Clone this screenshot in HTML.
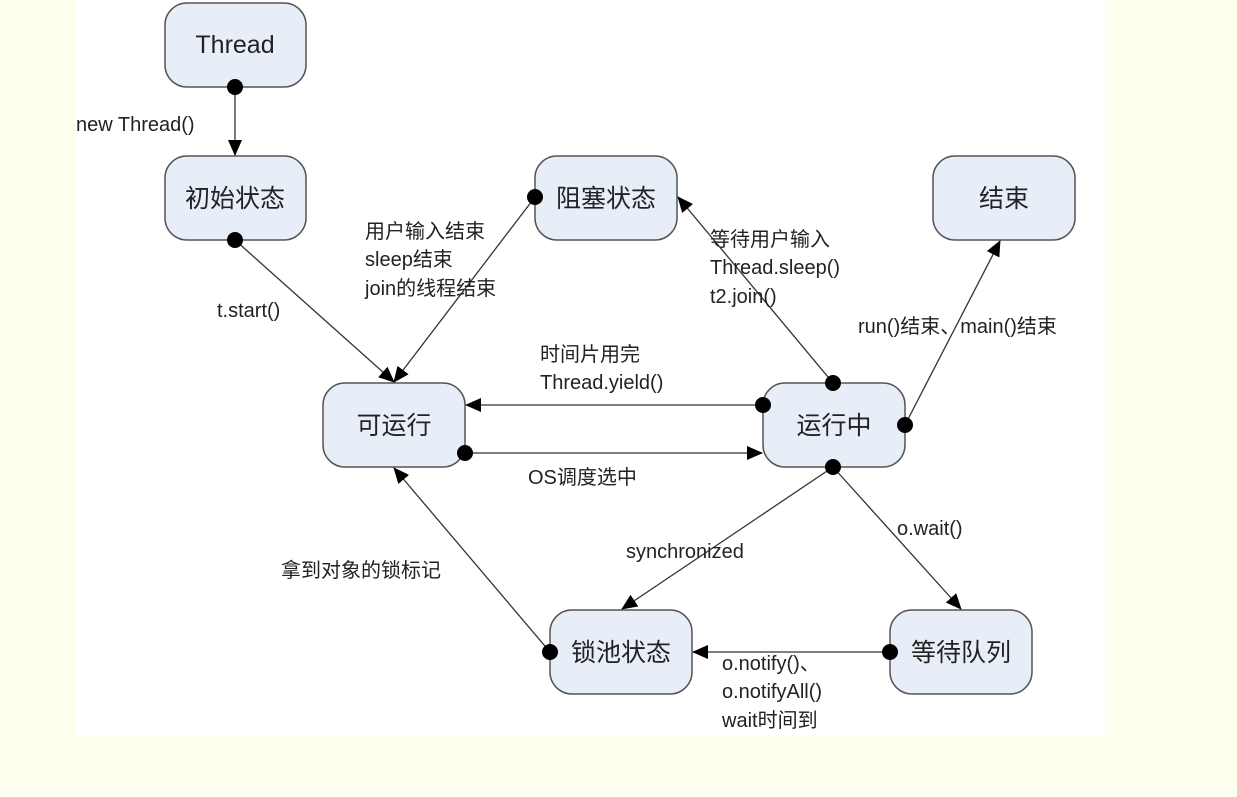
<!DOCTYPE html>
<html><head><meta charset="utf-8"><style>
html,body{margin:0;padding:0;background:#fffff0;}
svg{display:block;}
text{font-family:"Liberation Sans","Noto Sans CJK SC",sans-serif;fill:#222;}
</style></head><body>
<svg width="1237" height="797" xmlns="http://www.w3.org/2000/svg">
<defs>
<marker id="a" markerWidth="16" markerHeight="14" refX="15" refY="7" orient="auto" markerUnits="userSpaceOnUse">
<path d="M0,0 L16,7 L0,14 z" fill="#000"/></marker>
</defs>
<rect x="0" y="0" width="1237" height="797" fill="#fffff0"/>
<rect x="75" y="0" width="1031" height="736" fill="#fff"/>
<g fill="#e8eef8" stroke="#555" stroke-width="1.5">
<rect x="165" y="3" width="141" height="84" rx="22"/>
<rect x="165" y="156" width="141" height="84" rx="22"/>
<rect x="535" y="156" width="142" height="84" rx="22"/>
<rect x="933" y="156" width="142" height="84" rx="22"/>
<rect x="323" y="383" width="142" height="84" rx="22"/>
<rect x="763" y="383" width="142" height="84" rx="22"/>
<rect x="550" y="610" width="142" height="84" rx="22"/>
<rect x="890" y="610" width="142" height="84" rx="22"/>
</g>
<g font-size="25" text-anchor="middle">
<text x="235" y="53">Thread</text>
<text x="235" y="207">初始状态</text>
<text x="606" y="207">阻塞状态</text>
<text x="1004" y="207">结束</text>
<text x="394" y="434">可运行</text>
<text x="834" y="434">运行中</text>
<text x="621" y="661">锁池状态</text>
<text x="961" y="661">等待队列</text>
</g>
<g stroke="#333" stroke-width="1.3" fill="none" marker-end="url(#a)">
<line x1="235" y1="87" x2="235" y2="155"/>
<line x1="235" y1="240" x2="394" y2="382"/>
<line x1="535" y1="197" x2="394" y2="382"/>
<line x1="833" y1="383" x2="678" y2="197"/>
<line x1="905" y1="425" x2="1000" y2="241"/>
<line x1="763" y1="405" x2="466" y2="405"/>
<line x1="465" y1="453" x2="762" y2="453"/>
<line x1="833" y1="467" x2="622" y2="609"/>
<line x1="833" y1="467" x2="961" y2="609"/>
<line x1="890" y1="652" x2="693" y2="652"/>
<line x1="550" y1="652" x2="394" y2="468"/>
</g>
<g fill="#000">
<circle cx="235" cy="87" r="8"/>
<circle cx="235" cy="240" r="8"/>
<circle cx="535" cy="197" r="8"/>
<circle cx="833" cy="383" r="8"/>
<circle cx="905" cy="425" r="8"/>
<circle cx="763" cy="405" r="8"/>
<circle cx="465" cy="453" r="8"/>
<circle cx="833" cy="467" r="8"/>
<circle cx="890" cy="652" r="8"/>
<circle cx="550" cy="652" r="8"/>
</g>
<g font-size="20">
<text x="76" y="131">new Thread()</text>
<text x="217" y="317">t.start()</text>
<text x="365" y="238">用户输入结束</text>
<text x="365" y="266">sleep结束</text>
<text x="365" y="295">join的线程结束</text>
<text x="710" y="246">等待用户输入</text>
<text x="710" y="274">Thread.sleep()</text>
<text x="710" y="303">t2.join()</text>
<text x="858" y="333">run()结束、main()结束</text>
<text x="540" y="361">时间片用完</text>
<text x="540" y="389">Thread.yield()</text>
<text x="528" y="484">OS调度选中</text>
<text x="897" y="535">o.wait()</text>
<text x="626" y="558">synchronized</text>
<text x="281" y="577">拿到对象的锁标记</text>
<text x="722" y="670">o.notify()、</text>
<text x="722" y="698">o.notifyAll()</text>
<text x="722" y="727">wait时间到</text>
</g>
</svg>
</body></html>
